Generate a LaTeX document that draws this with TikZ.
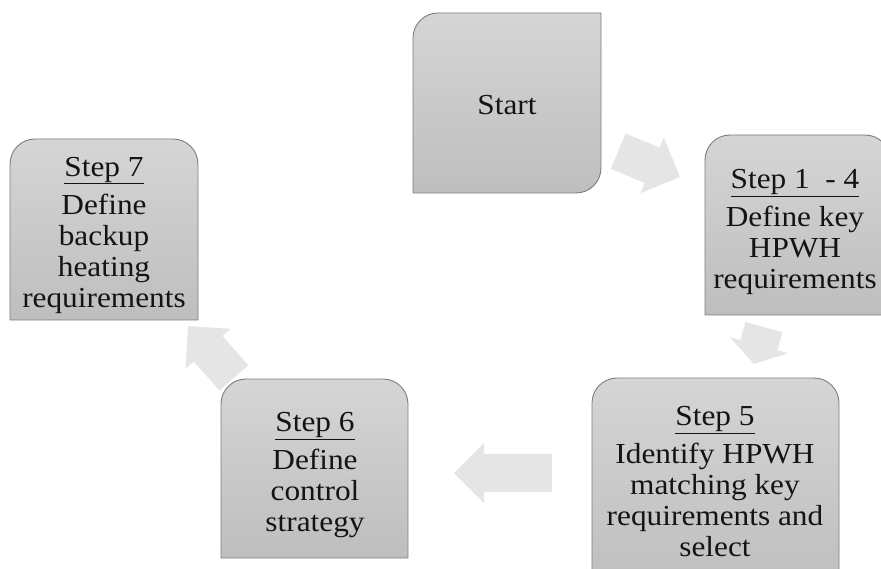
\documentclass[tikz,border=0pt]{standalone}
\usepackage{fontspec}
\setmainfont{Liberation Serif}
\newfontfamily\boxfont[FakeStretch=1.08]{Liberation Serif}
\usepackage{tikz}
\usetikzlibrary{shapes.arrows}
\definecolor{boxtop}{RGB}{213,213,213}
\definecolor{boxbot}{RGB}{190,190,190}
\definecolor{boxline}{RGB}{125,125,125}
\definecolor{arrowgray}{RGB}{229,229,229}
\definecolor{textgray}{RGB}{20,20,20}

\begin{document}
\begin{tikzpicture}[x=1pt,y=1pt,
    boxshape/.style={draw=boxline,line width=0.9pt,top color=boxtop,bottom color=boxbot},
    boxtext/.style={align=center,text=textgray,inner sep=0pt,font=\boxfont\fontsize{29}{31}\selectfont},
    blockarrow/.style={single arrow,fill=arrowgray,draw=none,inner xsep=0pt,inner ysep=19pt,single arrow head extend=11pt,anchor=tail}]
	\useasboundingbox (0,0) rectangle (881,-569);
	\clip (0,0) rectangle (881,-569);
	% arrows between the steps
	\node[blockarrow,rotate=-22.8,minimum height=67pt] (arr1) at (618,-151) {};
	\node[blockarrow,rotate=-105.4,minimum height=38pt,single arrow tip angle=115] (arr2) at (764,-327) {};
	\node[blockarrow,rotate=180,minimum height=98pt] (arr3) at (552,-473) {};
	\node[blockarrow,rotate=131.5,minimum height=69pt] (arr4) at (234,-378) {};
	% boxes
	\draw[boxshape] (413,-193) -- (413,-38) arc[start angle=180,end angle=90,radius=25] -- (601,-13) -- (601,-168) arc[start angle=0,end angle=-90,radius=25] -- cycle;
	\draw[boxshape] (705,-315) -- (705,-160) arc[start angle=180,end angle=90,radius=25] -- (865,-135) arc[start angle=90,end angle=0,radius=25] -- (890,-315) -- cycle;
	\draw[boxshape] (592,-590) -- (592,-403) arc[start angle=180,end angle=90,radius=25] -- (814,-378) arc[start angle=90,end angle=0,radius=25] -- (839,-590) -- cycle;
	\draw[boxshape] (221,-558) -- (221,-404) arc[start angle=180,end angle=90,radius=25] -- (383,-379) arc[start angle=90,end angle=0,radius=25] -- (408,-558) -- cycle;
	\draw[boxshape] (10,-320) -- (10,-164) arc[start angle=180,end angle=90,radius=25] -- (173,-139) arc[start angle=90,end angle=0,radius=25] -- (198,-320) -- cycle;
	% texts
	\node[boxtext] (start) at (507,-105) {Start};
	\node[boxtext] (stp14) at (795,-232) {\underline{Step 1\ \ - 4}\\[7pt]Define key\\HPWH\\requirements};
	\node[boxtext] (stp5) at (715,-482) {\underline{Step 5}\\[7pt]Identify HPWH\\matching key\\requirements and\\select};
	\node[boxtext] (stp6) at (315,-475) {\underline{Step 6}\\[7pt]Define\\control\\strategy};
	\node[boxtext] (stp7) at (104,-235) {\underline{Step 7}\\[7pt]Define\\backup\\heating\\requirements};
\end{tikzpicture}
\end{document}
